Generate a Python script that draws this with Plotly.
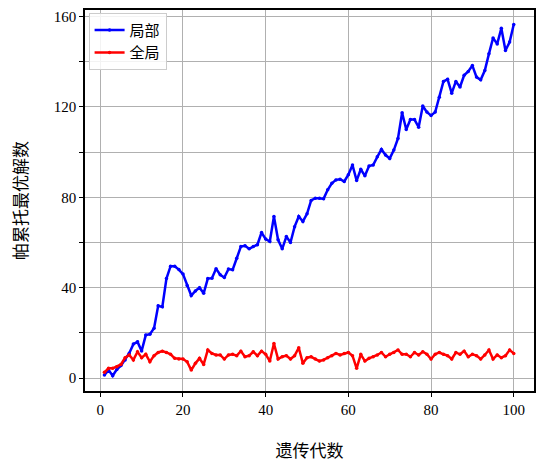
import plotly.graph_objects as go

generations = list(range(1, 101))

local_counts = [
    1.3, 3.5, 1.0, 3.8, 5.5, 8.0, 11.0, 15.0, 16.0, 12.0,
    19.0, 19.4, 22.0, 32.0, 31.5, 44.0, 49.5, 49.5, 48.0, 46.0,
    41.0, 36.5, 38.5, 40.0, 37.5, 44.0, 44.2, 48.4, 45.7, 44.5,
    48.2, 47.9, 53.0, 58.2, 58.5, 57.2, 58.2, 59.0, 64.4, 61.5,
    60.4, 71.5, 61.2, 57.2, 62.6, 60.0, 67.0, 71.5, 69.3, 72.7,
    78.6, 79.6, 79.6, 79.3, 83.3, 86.2, 87.7, 88.0, 87.0, 90.0,
    94.3, 87.4, 92.4, 89.5, 93.8, 94.3, 97.9, 101.2, 98.7, 97.2,
    100.9, 106.0, 117.4, 110.0, 114.4, 114.4, 111.0, 120.4, 117.7, 116.2,
    117.7, 124.3, 131.3, 132.2, 126.1, 131.3, 128.8, 134.0, 135.7, 138.3,
    133.2, 132.0, 136.1, 143.5, 150.5, 147.9, 154.8, 145.0, 148.7, 156.5,
]

global_counts = [
    2.5, 4.3, 4.3, 5.0, 6.0, 9.0, 10.2, 8.0, 11.6, 9.0,
    10.5, 7.2, 9.9, 11.3, 11.9, 11.3, 10.5, 8.7, 8.4, 8.4,
    7.2, 3.5, 6.5, 8.7, 6.0, 12.4, 10.9, 10.2, 10.2, 8.4,
    10.2, 10.5, 9.9, 11.9, 9.4, 9.9, 11.6, 9.9, 11.9, 10.5,
    7.5, 15.3, 8.4, 9.4, 9.9, 8.4, 9.9, 13.4, 6.5, 9.0,
    9.4, 8.4, 7.5, 8.0, 9.0, 9.9, 10.9, 10.2, 10.9, 11.3,
    9.9, 4.3, 10.5, 7.5, 8.7, 9.4, 10.2, 11.3, 9.4, 10.5,
    11.3, 12.4, 10.5, 10.5, 9.4, 11.3, 10.2, 11.6, 10.5, 8.4,
    10.5, 11.3, 10.5, 9.9, 8.4, 11.3, 10.5, 11.9, 9.4, 10.5,
    9.9, 8.4, 10.2, 12.4, 8.4, 10.2, 9.0, 9.9, 12.4, 10.9,
]

series_names = ["局部", "全局"]
x_ticks = [0, 20, 40, 60, 80, 100]
y_ticks = [0, 20, 40, 60, 80, 100, 120, 140, 160]
y_ticktext = ["0", "", "40", "", "80", "", "120", "", "160"]

FONT = "'Liberation Serif', 'Times New Roman', 'Noto Sans CJK SC', serif"

fig = go.Figure()
fig.add_trace(go.Scatter(
    x=generations, y=local_counts, name=series_names[0],
    mode="lines+markers",
    line=dict(color="#0000ff", width=2.5),
    marker=dict(color="#0000ff", size=3.5),
))
fig.add_trace(go.Scatter(
    x=generations, y=global_counts, name=series_names[1],
    mode="lines+markers",
    line=dict(color="#ff0000", width=2.5),
    marker=dict(color="#ff0000", size=3.5),
))

axis_common = dict(
    showline=True, linecolor="black", linewidth=1.5, mirror=True,
    ticks="outside", ticklen=4, tickcolor="black", tickwidth=1,
    showgrid=True, gridcolor="#b0b0b0", gridwidth=1.2,
    zeroline=False, automargin=False,
    tickfont=dict(family=FONT, size=15, color="black"),
)

fig.update_layout(
    width=537, height=462,
    margin=dict(l=85, r=3, t=10, b=71),
    paper_bgcolor="white", plot_bgcolor="white",
    font=dict(family=FONT, size=15, color="black"),
    showlegend=True,
    legend=dict(
        x=0.008, y=0.993, xanchor="left", yanchor="top",
        bgcolor="rgba(255,255,255,0.85)", bordercolor="#cccccc", borderwidth=1,
        font=dict(family=FONT, size=15, color="black"),
        itemwidth=30, tracegroupgap=0,
    ),
    xaxis=dict(
        range=[-3.7, 104.9], tickvals=x_ticks,
        title=dict(text="遗传代数", font=dict(family=FONT, size=17), standoff=28),
        **axis_common,
    ),
    yaxis=dict(
        range=[-5.75, 162.9], tickvals=y_ticks, ticktext=y_ticktext,
        title=dict(text="帕累托最优解数", font=dict(family=FONT, size=17), standoff=22),
        **axis_common,
    ),
)

fig.write_html(
    "out.html",
    config={"displayModeBar": False},
    post_script="document.body.style.margin='0';document.body.style.overflow='hidden';",
)
